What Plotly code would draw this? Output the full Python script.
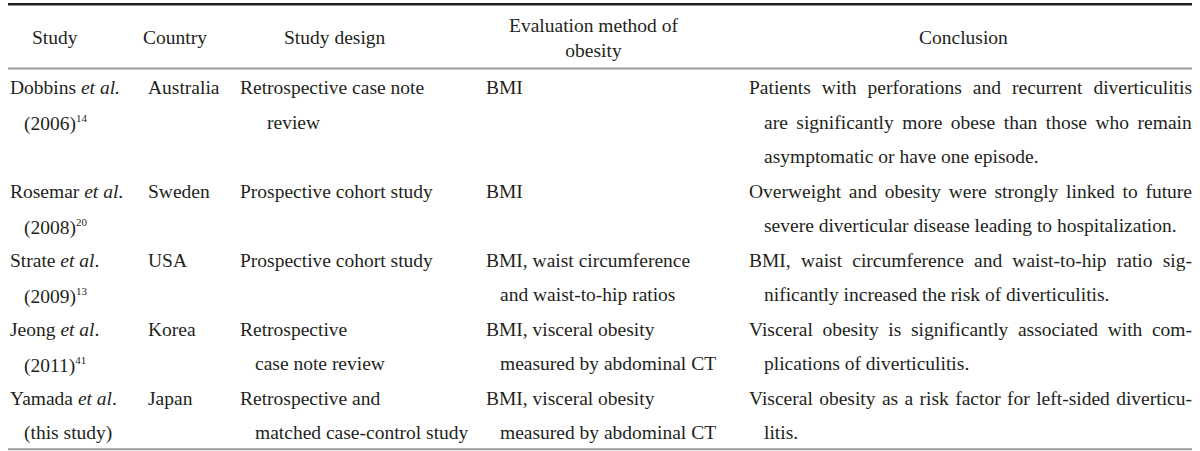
import json
import plotly.graph_objects as go

# ---------------- data ----------------
headers = ["Study", "Country", "Study design", "Evaluation method of<br>obesity", "Conclusion"]

study_first = ["Dobbins <i>et al.</i>", "Rosemar <i>et al</i>.", "Strate <i>et al</i>.",
               "Jeong <i>et al</i>.", "Yamada <i>et al</i>."]
study_years = ["(2006)", "(2008)", "(2009)", "(2011)", "(this study)"]
study_refs = ["14", "20", "13", "41", ""]
countries = ["Australia", "Sweden", "USA", "Korea", "Japan"]
designs = [["Retrospective case note", "review"],
           ["Prospective cohort study"],
           ["Prospective cohort study"],
           ["Retrospective", "case note review"],
           ["Retrospective and", "matched case-control study"]]
evaluations = [["BMI"],
               ["BMI"],
               ["BMI, waist circumference", "and waist-to-hip ratios"],
               ["BMI, visceral obesity", "measured by abdominal CT"],
               ["BMI, visceral obesity", "measured by abdominal CT"]]
conclusions = [["Patients with perforations and recurrent diverticulitis",
                "are significantly more obese than those who remain",
                "asymptomatic or have one episode."],
               ["Overweight and obesity were strongly linked to future",
                "severe diverticular disease leading to hospitalization."],
               ["BMI, waist circumference and waist-to-hip ratio sig-",
                "nificantly increased the risk of diverticulitis."],
               ["Visceral obesity is significantly associated with com-",
                "plications of diverticulitis."],
               ["Visceral obesity as a risk factor for left-sided diverticu-",
                "litis."]]
row_line_counts = [3, 2, 2, 2, 2]

# ---------------- layout ----------------
W, H = 1200, 451
FONT = "Liberation Serif, Times New Roman, serif"
FS = 19.5
TXT = "#231f20"
TABLE_L, TABLE_R = 8, 1192
col_left = {"study": 8, "country": 146, "design": 238, "eval": 484, "concl": 747}
indent = {"study": 14, "design": 15, "eval": 14, "concl": 15}
header_x = [55, 175, 335, 593, 963]
header_y = 37.5
line0_y = 87.5
pitch = 34.5

fig = go.Figure()
annotations = []
justify = []


def add(text, x, y, xanchor="left", just=False, size=FS):
    annotations.append(dict(text=text, x=x, y=y, xref="x", yref="y", xanchor=xanchor,
                            yanchor="middle", align="left" if xanchor == "left" else "center",
                            showarrow=False, font=dict(family=FONT, size=size, color=TXT)))
    if just:
        justify.append(len(annotations) - 1)


# headers
for i, h in enumerate(headers):
    annotations.append(dict(text=h, x=header_x[i], y=header_y, xref="x", yref="y",
                            xanchor="center", yanchor="middle", align="center",
                            showarrow=False,
                            font=dict(family=FONT, size=FS, color=TXT)))

start = 0
for r in range(len(countries)):
    ys = [line0_y + pitch * (start + k) for k in range(row_line_counts[r])]
    add(study_first[r], col_left["study"], ys[0])
    second = study_years[r]
    dy = 0
    if study_refs[r]:
        second += "<sup><span style='font-size:11px'>%s</span></sup>" % study_refs[r]
        dy = 1.5
    add(second, col_left["study"] + indent["study"], ys[1] + dy)
    add(countries[r], col_left["country"], ys[0])
    for k, t in enumerate(designs[r]):
        ind = indent["design"] if k else 0
        if r == 0 and k == 1:
            ind = 27
        add(t, col_left["design"] + ind, ys[k])
    for k, t in enumerate(evaluations[r]):
        add(t, col_left["eval"] + (indent["eval"] if k else 0), ys[k])
    n = len(conclusions[r])
    for k, t in enumerate(conclusions[r]):
        add(t, col_left["concl"] + (indent["concl"] if k else 0), ys[k], just=(k < n - 1))
    start += row_line_counts[r]

shapes = [
    dict(type="line", xref="x", yref="y", x0=TABLE_L, x1=TABLE_R, y0=4.2, y1=4.2,
         line=dict(color="#231f20", width=2.6)),
    dict(type="line", xref="x", yref="y", x0=TABLE_L, x1=TABLE_R, y0=68.5, y1=68.5,
         line=dict(color="#9a9a9a", width=2)),
    dict(type="line", xref="x", yref="y", x0=TABLE_L, x1=TABLE_R, y0=449.3, y1=449.3,
         line=dict(color="#9a9a9a", width=2)),
]

fig.update_layout(
    width=W, height=H, margin=dict(l=0, r=0, t=0, b=0),
    paper_bgcolor="white", plot_bgcolor="white",
    xaxis=dict(range=[0, W], visible=False, fixedrange=True),
    yaxis=dict(range=[H, 0], visible=False, fixedrange=True),
    annotations=annotations, shapes=shapes, showlegend=False,
)

post = """
document.body.style.margin = '0';
document.body.style.padding = '0';
document.documentElement.style.overflow = 'hidden';
var gd = document.getElementById('{plot_id}');
var idx = %s;
var right = %f;
var xa = gd._fullLayout.xaxis;
idx.forEach(function(i){
  var t = gd.querySelector('.annotation[data-index="' + i + '"] text.annotation-text');
  if (!t) return;
  var txt = t.textContent;
  var nsp = (txt.match(/ /g) || []).length;
  if (!nsp) return;
  var r0 = t.getBoundingClientRect();
  var g = gd.getBoundingClientRect();
  var target = xa.l2p(right) + xa._offset + g.left;
  var extra = (target - r0.right) / nsp;
  t.style.wordSpacing = extra + 'px';
});
""" % (json.dumps(justify), TABLE_R)

fig.write_html("out.html", post_script=post, config={"displayModeBar": False})
